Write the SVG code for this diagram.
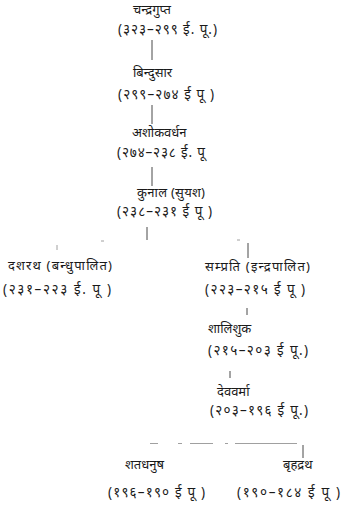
<svg xmlns="http://www.w3.org/2000/svg" width="344" height="505" viewBox="0 0 344 505">
<style>
text{font-family:"Noto Sans","DejaVu Sans",sans-serif;font-size:13px;fill:#1a1a1a}
.d{font-size:13.5px}
.ln{stroke:#333;stroke-width:0.9;fill:none}
.fl{stroke:#888;stroke-width:0.8;fill:none}
</style>
<rect width="344" height="505" fill="#fff"/>
<g id="connectors">
<line class="ln" x1="152" y1="40" x2="152" y2="60"/>
<line class="ln" x1="152" y1="105" x2="152" y2="124"/>
<line class="ln" x1="152" y1="167" x2="152" y2="186"/>
<line class="ln" x1="147" y1="227" x2="147" y2="240"/>
<line class="fl" x1="57" y1="245" x2="57" y2="250"/>
<line class="fl" x1="101" y1="241" x2="104" y2="241"/>
<line class="fl" x1="237" y1="240" x2="240" y2="240"/>
<line class="ln" x1="248" y1="243" x2="248" y2="258"/>
<line class="ln" x1="247" y1="308" x2="247" y2="315"/>
<line class="ln" x1="230" y1="371" x2="230" y2="378"/>
<path class="fl" d="M150 443.5h8M178 443.5h4M190 443.5h23M225 443.5h3M235 443.5h62"/>
<line class="ln" x1="303" y1="445" x2="303" y2="458"/>
</g>
<g id="n1"><text x="133" y="14">चन्द्रगुप्त</text><text class="d" x="118" y="34" textLength="99" lengthAdjust="spacing">(३२३–२९९ ई. पू.)</text></g>
<g id="n2"><text x="133" y="77">बिन्दुसार</text><text class="d" x="118" y="99" textLength="96" lengthAdjust="spacing">(२९९–२७४ ई पू )</text></g>
<g id="n3"><text x="132" y="137">अशोकवर्धन</text><text class="d" x="117" y="157" textLength="88" lengthAdjust="spacing">(२७४–२३८ ई. पू</text></g>
<g id="n4"><text x="137" y="197" textLength="68" lengthAdjust="spacing">कुनाल (सुयश)</text><text class="d" x="117" y="216" textLength="95" lengthAdjust="spacing">(२३८–२३१ ई पू )</text></g>
<g id="n5"><text x="8" y="270" textLength="104" lengthAdjust="spacing">दशरथ (बन्धुपालित)</text><text class="d" x="3" y="294" textLength="108" lengthAdjust="spacing">(२३१–२२३ ई. पू )</text></g>
<g id="n6"><text x="205" y="271" textLength="105" lengthAdjust="spacing">सम्प्रति (इन्द्रपालित)</text><text class="d" x="205" y="294" textLength="100" lengthAdjust="spacing">(२२३–२१५ ई पू )</text></g>
<g id="n7"><text x="208" y="333">शालिशुक</text><text class="d" x="208" y="355" textLength="100" lengthAdjust="spacing">(२१५–२०३ ई पू.)</text></g>
<g id="n8"><text x="217" y="396">देववर्मा</text><text class="d" x="210" y="415" textLength="98" lengthAdjust="spacing">(२०३–१९६ ई पू.)</text></g>
<g id="n9"><text x="125" y="469">शतधनुष</text><text class="d" x="108" y="497" textLength="97" lengthAdjust="spacing">(१९६–१९० ई पू )</text></g>
<g id="n10"><text x="283" y="469">बृहद्रथ</text><text class="d" x="237" y="497" textLength="103" lengthAdjust="spacing">(१९०–१८४ ई पू )</text></g>
</svg>
